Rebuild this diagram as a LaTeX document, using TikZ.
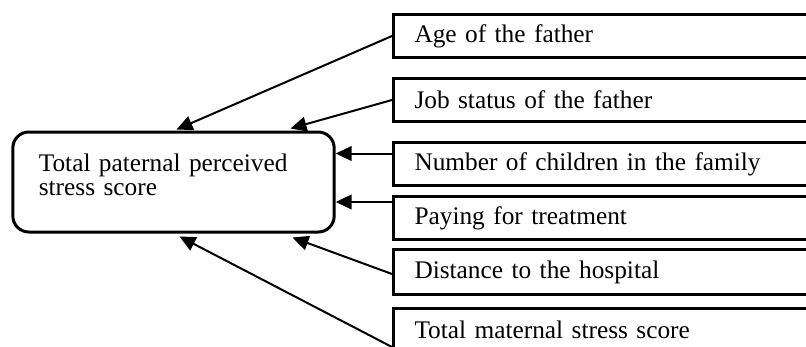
\documentclass[tikz,border=0pt]{standalone}
\usepackage{fontspec}
\setmainfont{Liberation Serif}
\usetikzlibrary{arrows.meta,calc}

\begin{document}
\begin{tikzpicture}[x=0.75pt,y=-0.75pt]
\tikzstyle{every node}=[font=\fontsize{19}{18}\selectfont]
\tikzstyle{factor}=[draw,line width=2.25pt,anchor=north west,minimum height=32.25pt,text width=300pt,inner xsep=15.75pt,align=left]
\tikzstyle{outcome}=[draw,line width=2.25pt,rounded corners=12pt,minimum width=240.75pt,minimum height=75pt,text width=202pt,inner xsep=19.5pt,align=left]
\tikzstyle{arr}=[line width=1.5pt,-{Triangle[length=12pt,width=11pt]}]
\useasboundingbox (0,0) rectangle (806,346);
\clip (0,0) rectangle (806,346);

\node[outcome] (stress) at (173.5,182) {Total paternal perceived\\stress score\\[-12pt]\strut};

\node[factor] (age) at (392,13) {Age of the father};
\node[factor] (job) at (392,77) {Job status of the father};
\node[factor] (children) at (392,141) {Number of children in the family};
\node[factor] (paying) at (392,195) {Paying for treatment};
\node[factor,minimum height=33.75pt] (distance) at (392,248) {Distance to the hospital};
\node[factor] (maternal) at (392,307) {Total maternal stress score};

\draw[arr] (age.west) -- ($(stress.north)+(3,-1)$);
\draw[arr] (job.west) -- ($(stress.north)+(117,-2)$);
\draw[arr] ($(children.west)+(0,-10.5)$) coordinate (n) -- (n -| stress.east);
\draw[arr] ($(paying.west)+(0,-16)$) coordinate (p) -- (p -| stress.east);
\draw[arr] ($(distance.west)+(0,2)$) -- ($(stress.south)+(119,4)$);
\draw[arr] ($(maternal.west)+(0,17)$) -- ($(stress.south)+(6,3)$);
\end{tikzpicture}
\end{document}
